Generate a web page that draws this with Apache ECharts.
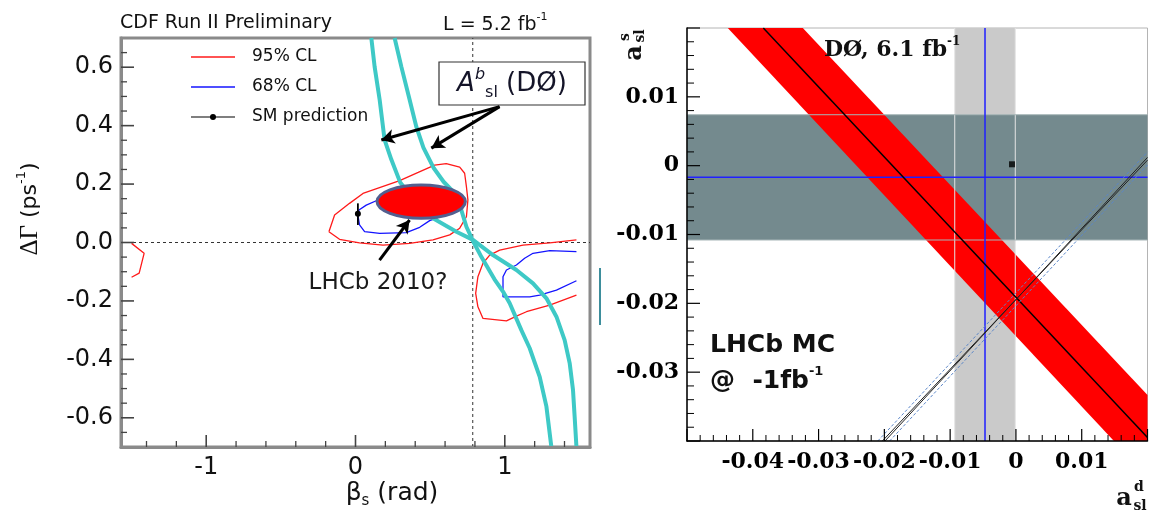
<!DOCTYPE html>
<html><head><meta charset="utf-8">
<script src="https://cdn.jsdelivr.net/npm/echarts@6/dist/echarts.min.js"></script>
<style>html,body{margin:0;padding:0;background:#fff}#c{width:1149px;height:511px}</style>
</head><body><div id="c"></div>
<script>
// ---------------- Left panel (CDF beta_s vs DeltaGamma) ----------------
const leftXRange = [-1.5708, 1.5708];
const leftYRange = [-0.7, 0.7];
const leftXMajor = [-1, 0, 1];
const leftXMinor = [-1.4,-1.2,-0.8,-0.6,-0.4,-0.2,0.2,0.4,0.6,0.8,1.2,1.4];
const leftYMajor = [-0.6,-0.4,-0.2,0,0.2,0.4,0.6];
const leftYMinor = [-0.65,-0.55,-0.5,-0.45,-0.35,-0.3,-0.25,-0.15,-0.1,-0.05,0.05,0.1,0.15,0.25,0.3,0.35,0.45,0.5,0.55,0.65];
const legendNames = ['95% CL', '68% CL', 'SM prediction'];

const red95Main = [[-0.178,0.037],[-0.140,0.094],[-0.040,0.134],[0.050,0.168],[0.296,0.212],[0.420,0.240],[0.530,0.265],[0.608,0.270],[0.698,0.258],[0.731,0.237],[0.743,0.191],[0.753,0.146],[0.743,0.088],[0.698,0.049],[0.631,0.026],[0.519,0.009],[0.363,-0.003],[0.184,-0.009],[0.027,-0.001],[-0.107,0.011],[-0.178,0.037]];
const red95Left = [[-1.500,-0.003],[-1.416,-0.037],[-1.449,-0.105],[-1.500,-0.119]];
const red95Right = [[1.480,0.009],[1.301,-0.001],[1.122,-0.009],[0.966,-0.026],[0.899,-0.043],[0.854,-0.071],[0.820,-0.117],[0.805,-0.174],[0.820,-0.220],[0.854,-0.260],[1.011,-0.268],[1.078,-0.252],[1.145,-0.237],[1.301,-0.214],[1.480,-0.180]];
const blue68Main = [[0.023,0.111],[0.072,0.128],[0.162,0.148],[0.296,0.168],[0.474,0.174],[0.608,0.157],[0.631,0.117],[0.564,0.088],[0.497,0.075],[0.430,0.052],[0.340,0.034],[0.162,0.031],[0.061,0.037],[0.027,0.060],[0.016,0.094],[0.023,0.111]];
const blue68Right = [[1.480,-0.031],[1.301,-0.028],[1.189,-0.037],[1.133,-0.054],[1.078,-0.077],[1.011,-0.094],[0.988,-0.117],[0.988,-0.186],[1.167,-0.186],[1.234,-0.180],[1.346,-0.163],[1.480,-0.131]];
const cyanA = [[0.106,0.700],[0.128,0.602],[0.162,0.488],[0.195,0.351],[0.240,0.284],[0.300,0.205],[0.400,0.140],[0.519,0.083],[0.676,0.037],[0.787,0.009],[0.921,-0.043],[1.078,-0.094],[1.189,-0.140],[1.279,-0.191],[1.346,-0.254],[1.401,-0.334],[1.435,-0.414],[1.457,-0.505],[1.468,-0.597],[1.480,-0.700]];
const cyanB = [[0.262,0.700],[0.307,0.602],[0.363,0.488],[0.407,0.397],[0.455,0.325],[0.525,0.254],[0.590,0.208],[0.653,0.175],[0.709,0.111],[0.743,0.054],[0.787,0.005],[0.843,-0.049],[0.930,-0.125],[0.988,-0.168],[1.033,-0.208],[1.111,-0.300],[1.167,-0.362],[1.234,-0.460],[1.279,-0.562],[1.312,-0.700]];
const smPoint = [[0.016,0.098]];
const smErr = [[0.016,0.060],[0.016,0.134]];
const lhcbEllipse = [[0.440,0.140,0.296,0.057]]; // centre x, centre y, half-width, half-height
const zeroLine = [[-1.5708,0],[1.5708,0]];
const quarterPiLine = [[0.7854,-0.7],[0.7854,0.7]];
const arrowAbsl1 = [[0.965,0.465],[0.173,0.351]];
const arrowAbsl2 = [[0.965,0.465],[0.508,0.323]];
const arrowLhcb = [[0.161,-0.060],[0.362,0.077]];

// ---------------- Right panel (a_sl^d vs a_sl^s) ----------------
const rightXRange = [-0.05, 0.02];
const rightYRange = [-0.04, 0.02];
const rightXMajor = [-0.05,-0.04,-0.03,-0.02,-0.01,0,0.01,0.02];
const rightXMinor = [-0.048,-0.046,-0.044,-0.042,-0.038,-0.036,-0.034,-0.032,-0.028,-0.026,-0.024,-0.022,-0.018,-0.016,-0.014,-0.012,-0.008,-0.006,-0.004,-0.002,0.002,0.004,0.006,0.008,0.012,0.014,0.016,0.018];
const rightYMajor = [-0.04,-0.03,-0.02,-0.01,0,0.01,0.02];
const rightYMinor = [-0.038,-0.036,-0.034,-0.032,-0.028,-0.026,-0.024,-0.022,-0.018,-0.016,-0.014,-0.012,-0.008,-0.006,-0.004,-0.002,0.002,0.004,0.006,0.008,0.012,0.014,0.016,0.018];
const d0AdBand = [[-0.0093,-0.04,-0.0001,0.02]];
const d0AsBand = [[-0.05,-0.0108,0.02,0.0074]];
const d0AdLine = [[-0.0047,-0.04],[-0.0047,0.02]];
const d0AsLine = [[-0.05,-0.0017],[0.02,-0.0017]];
const adBandEdge1 = [[-0.0093,-0.04],[-0.0093,0.02]];
const adBandEdge2 = [[-0.0001,-0.04],[-0.0001,0.02]];
const asBandEdge1 = [[-0.05,0.0074],[0.02,0.0074]];
const asBandEdge2 = [[-0.05,-0.0108],[0.02,-0.0108]];
const d0AbslBand = [[-0.0438,0.02],[-0.0324,0.02],[0.02,-0.0333],[0.02,-0.04],[0.0149,-0.04]];
const d0AbslLine = [[-0.0384,0.02],[0.02,-0.0395]];
const mcLineA = [[-0.0203,-0.04],[0.02,0.0008]];
const mcLineB = [[-0.0199,-0.04],[0.02,0.0012]];
const mcDashUp = [[-0.0210,-0.04],[0.02,0.0020]];
const mcDashDown = [[-0.0192,-0.04],[0.02,0.0001]];
const smSquare = [[-0.0006,0.0002]];

const SANS = 'DejaVu Sans';
const SERIF = 'DejaVu Serif';

function line(name, data, ax, color, width, extra) {
  return Object.assign({
    type: 'line', name, data, xAxisIndex: ax, yAxisIndex: ax,
    symbol: 'none', silent: true, animation: false, clip: true, z: 2,
    lineStyle: { color, width, type: 'solid' }, itemStyle: { color }
  }, extra || {});
}
function bandSeries(name, data, color) {
  return {
    type: 'custom', name, data, xAxisIndex: 1, yAxisIndex: 1, silent: true, clip: true, z: 1,
    encode: { x: [0, 2], y: [1, 3] },
    renderItem(params, api) {
      const p1 = api.coord([api.value(0), api.value(1)]);
      const p2 = api.coord([api.value(2), api.value(3)]);
      return { type: 'rect', shape: { x: Math.min(p1[0], p2[0]), y: Math.min(p1[1], p2[1]), width: Math.abs(p2[0] - p1[0]), height: Math.abs(p2[1] - p1[1]) }, style: { fill: color } };
    }
  };
}
function arrowSeries(name, pairs) {
  return {
    type: 'line', name, data: [], xAxisIndex: 0, yAxisIndex: 0, silent: true, z: 6,
    markLine: {
      silent: true, symbol: ['none', 'arrow'], symbolSize: [11, 13], animation: false,
      label: { show: false },
      lineStyle: { color: '#000', width: 3, type: 'solid' },
      data: pairs.map(p => [{ coord: p[0] }, { coord: p[1] }])
    }
  };
}
// axis ticks drawn through the axes' own scales (inward ticks)
function tickSeries(name, values, ax, dim, edge, len, color, width) {
  return {
    type: 'custom', name, data: values.map(v => [v]), xAxisIndex: ax, yAxisIndex: ax, silent: true, z: 20,
    renderItem(params, api) {
      const v = api.value(0);
      if (dim === 'y') {
        const p = api.coord([edge, v]);
        return { type: 'line', shape: { x1: p[0], y1: p[1], x2: p[0] + len, y2: p[1] }, style: { stroke: color, lineWidth: width } };
      }
      const p = api.coord([v, edge]);
      return { type: 'line', shape: { x1: p[0], y1: p[1], x2: p[0], y2: p[1] - len }, style: { stroke: color, lineWidth: width } };
    }
  };
}

const chart = echarts.init(document.getElementById('c'), null, { renderer: 'canvas' });
const option = {
  animation: false,
  backgroundColor: '#fff',
  grid: [
    { left: 121, top: 38, width: 469, height: 409, show: true, borderColor: '#8a8a8a', borderWidth: 3, outerBoundsMode: 'none' },
    { left: 687, top: 28, width: 460.5, height: 413, show: true, borderColor: '#b4b4b4', borderWidth: 1, outerBoundsMode: 'none' }
  ],
  xAxis: [
    { type: 'value', gridIndex: 0, min: leftXRange[0], max: leftXRange[1], z: 10,
      axisLine: { onZero: false, lineStyle: { color: '#8a8a8a', width: 3 } },
      axisTick: { show: false },
      axisLabel: { customValues: leftXMajor, margin: 9, fontFamily: SANS, fontSize: 24, color: '#111' },
      splitLine: { show: false } },
    { type: 'value', gridIndex: 1, min: rightXRange[0], max: rightXRange[1], interval: 0.01, z: 10,
      axisLine: { onZero: false, lineStyle: { color: '#000', width: 1.5 } },
      axisTick: { show: false }, minorTick: { show: false },
      axisLabel: { showMinLabel: false, showMaxLabel: false, margin: 10, fontFamily: SERIF, fontWeight: 'bold', fontSize: 22, color: '#000' },
      splitLine: { show: false } }
  ],
  yAxis: [
    { type: 'value', gridIndex: 0, min: leftYRange[0], max: leftYRange[1], z: 10,
      axisLine: { show: true, onZero: false, lineStyle: { color: '#8a8a8a', width: 3 } },
      axisTick: { show: false },
      axisLabel: { customValues: leftYMajor, margin: 8, fontFamily: SANS, fontSize: 24, color: '#111', formatter: v => v.toFixed(1) },
      splitLine: { show: false } },
    { type: 'value', gridIndex: 1, min: rightYRange[0], max: rightYRange[1], interval: 0.01, z: 10,
      axisLine: { show: true, onZero: false, lineStyle: { color: '#000', width: 1.5 } },
      axisTick: { show: false }, minorTick: { show: false },
      axisLabel: { showMinLabel: false, showMaxLabel: false, margin: 8, fontFamily: SERIF, fontWeight: 'bold', fontSize: 22, color: '#000' },
      splitLine: { show: false } }
  ],
  series: [
    // left panel
    line('zero', zeroLine, 0, '#333', 1, { lineStyle: { color: '#333', width: 1, type: [3, 3] } }),
    line('quarterPi', quarterPiLine, 0, '#333', 1, { lineStyle: { color: '#333', width: 1, type: [3, 3] } }),
    line(legendNames[0], red95Main, 0, '#ff1a1a', 1.3),
    line(legendNames[0], red95Left, 0, '#ff1a1a', 1.3),
    line(legendNames[0], red95Right, 0, '#ff1a1a', 1.3),
    line(legendNames[1], blue68Main, 0, '#1414ff', 1.3),
    line(legendNames[1], blue68Right, 0, '#1414ff', 1.3),
    line('smErr', smErr, 0, '#000', 1.8),
    line(legendNames[2], smPoint, 0, '#000', 1.2, { symbol: 'circle', symbolSize: 6, showSymbol: true }),
    line('cyanA', cyanA, 0, '#3ec9c6', 4, { z: 3 }),
    line('cyanB', cyanB, 0, '#3ec9c6', 4, { z: 3 }),
    { type: 'custom', name: 'LHCb 2010', data: lhcbEllipse, xAxisIndex: 0, yAxisIndex: 0, silent: true, z: 5,
      encode: { x: 0, y: 1 },
      renderItem(params, api) {
        const c = api.coord([api.value(0), api.value(1)]);
        const s = api.size([api.value(2), api.value(3)]);
        const rx = s[0], ry = s[1];
        const d = 'M ' + (c[0] - rx) + ' ' + c[1] + ' A ' + rx + ' ' + ry + ' 0 1 0 ' + (c[0] + rx) + ' ' + c[1] +
                  ' A ' + rx + ' ' + ry + ' 0 1 0 ' + (c[0] - rx) + ' ' + c[1] + ' Z';
        return { type: 'path', shape: { pathData: d }, style: { fill: '#ff0000', stroke: '#535f8f', lineWidth: 3 } };
      } },
    arrowSeries('arrows', [arrowAbsl1, arrowAbsl2, arrowLhcb]),
    tickSeries('lxMaj', leftXMajor, 0, 'x', leftYRange[0], 12, '#444', 1.6),
    tickSeries('lxMin', leftXMinor, 0, 'x', leftYRange[0], 6, '#444', 1.3),
    tickSeries('lyMaj', leftYMajor, 0, 'y', leftXRange[0], 13, '#444', 1.6),
    tickSeries('lyMin', leftYMinor, 0, 'y', leftXRange[0], 6, '#444', 1.3),
    // right panel
    bandSeries('adBand', d0AdBand, '#cacaca'),
    bandSeries('asBand', d0AsBand, '#748a8e'),
    { type: 'custom', name: 'abslBand', data: [0], xAxisIndex: 1, yAxisIndex: 1, silent: true, clip: true, z: 1,
      renderItem(params, api) {
        return { type: 'polygon', shape: { points: d0AbslBand.map(p => api.coord(p)) }, style: { fill: '#ff0000' } };
      } },
    line('adEdge1', adBandEdge1, 1, '#e4e4e4', 1),
    line('adEdge2', adBandEdge2, 1, '#e4e4e4', 1),
    line('asEdge1', asBandEdge1, 1, '#a7b6b8', 1),
    line('asEdge2', asBandEdge2, 1, '#a7b6b8', 1),
    line('adLine', d0AdLine, 1, '#2020ff', 1.5),
    line('asLine', d0AsLine, 1, '#2020ff', 1.5),
    line('abslLine', d0AbslLine, 1, '#000', 1.5),
    line('mcDashUp', mcDashUp, 1, '#5b86c8', 1, { lineStyle: { color: '#5b86c8', width: 1, type: [3, 2] } }),
    line('mcDashDown', mcDashDown, 1, '#5b86c8', 1, { lineStyle: { color: '#5b86c8', width: 1, type: [3, 2] } }),
    line('mcLineA', mcLineA, 1, '#222', 1),
    line('mcLineB', mcLineB, 1, '#222', 1),
    { type: 'scatter', name: 'smSquare', data: smSquare, xAxisIndex: 1, yAxisIndex: 1, silent: true, z: 4,
      symbol: 'rect', symbolSize: 6, itemStyle: { color: '#000' } },
    tickSeries('rxMaj', rightXMajor, 1, 'x', rightYRange[0], 12, '#000', 1.2),
    tickSeries('rxMin', rightXMinor, 1, 'x', rightYRange[0], 6, '#000', 1),
    tickSeries('ryMaj', rightYMajor, 1, 'y', rightXRange[0], 13, '#000', 1.2),
    tickSeries('ryMin', rightYMinor, 1, 'y', rightXRange[0], 7, '#000', 1)
  ],
  graphic: [
    // legend of left panel
    { type: 'line', z: 100, silent: true, shape: { x1: 191, y1: 57, x2: 235, y2: 57 }, style: { stroke: '#ff1a1a', lineWidth: 1.4 } },
    { type: 'line', z: 100, silent: true, shape: { x1: 191, y1: 87, x2: 235, y2: 87 }, style: { stroke: '#1414ff', lineWidth: 1.4 } },
    { type: 'line', z: 100, silent: true, shape: { x1: 191, y1: 117, x2: 235, y2: 117 }, style: { stroke: '#000', lineWidth: 1.2 } },
    { type: 'circle', z: 100, silent: true, shape: { cx: 213, cy: 117, r: 3 }, style: { fill: '#000' } },
    { type: 'text', z: 100, x: 252, y: 57, silent: true, style: { text: legendNames[0], font: '17px "DejaVu Sans"', fill: '#111', textVerticalAlign: 'middle' } },
    { type: 'text', z: 100, x: 252, y: 87, silent: true, style: { text: legendNames[1], font: '17px "DejaVu Sans"', fill: '#111', textVerticalAlign: 'middle' } },
    { type: 'text', z: 100, x: 252, y: 117, silent: true, style: { text: legendNames[2], font: '17px "DejaVu Sans"', fill: '#111', textVerticalAlign: 'middle' } },
    // left panel texts
    { type: 'text', z: 100, x: 120, y: 23, silent: true, style: { text: 'CDF Run II Preliminary', font: '19px "DejaVu Sans"', fill: '#111', textVerticalAlign: 'middle' } },
    { type: 'text', z: 100, x: 443, y: 25, silent: true, style: { text: '{n|L = 5.2 fb}{sup|-1}', textVerticalAlign: 'middle', fill: '#111',
      rich: { n: { fontFamily: SANS, fontSize: 19, lineHeight: 26 }, sup: { fontFamily: SANS, fontSize: 11, lineHeight: 12, verticalAlign: 'top' } } } },
    { type: 'group', z: 100, x: 439, y: 62, silent: true, children: [
      { type: 'rect', z: 100, shape: { x: 0, y: 0, width: 146, height: 43 }, style: { fill: '#fff', stroke: '#333', lineWidth: 1.2 } },
      { type: 'text', z: 101, x: 73, y: 22, style: { text: '{i|A}{sup|b}{sub|sl}{n| (DØ)}', textAlign: 'center', textVerticalAlign: 'middle', fill: '#141428',
        rich: { i: { fontFamily: SANS, fontStyle: 'italic', fontSize: 26, lineHeight: 34 }, n: { fontFamily: SANS, fontSize: 26, lineHeight: 34 },
                sup: { fontFamily: SANS, fontStyle: 'italic', fontSize: 16, lineHeight: 16, verticalAlign: 'top' },
                sub: { fontFamily: SANS, fontSize: 16, lineHeight: 16, verticalAlign: 'bottom', color: '#2a3f7a' } } } }
    ] },
    { type: 'text', z: 100, x: 378, y: 283, silent: true, style: { text: 'LHCb 2010?', font: '23px "DejaVu Sans"', fill: '#1a1a1a', textAlign: 'center', textVerticalAlign: 'middle' } },
    { type: 'text', z: 100, x: 30, y: 209, rotation: Math.PI / 2, silent: true, style: { text: '{g|ΔΓ}{n| (ps}{sup|-1}{n|)}', textAlign: 'center', textVerticalAlign: 'middle', fill: '#111',
      rich: { g: { fontFamily: 'Liberation Serif', fontSize: 25, lineHeight: 30 }, n: { fontFamily: SANS, fontSize: 22, lineHeight: 30 }, sup: { fontFamily: SANS, fontSize: 13, lineHeight: 13, verticalAlign: 'top' } } } },
    { type: 'text', z: 100, x: 392, y: 493, silent: true, style: { text: '{n|β}{sub|s}{n| (rad)}', textAlign: 'center', textVerticalAlign: 'middle', fill: '#111',
      rich: { n: { fontFamily: SANS, fontSize: 25, lineHeight: 32 }, sub: { fontFamily: SANS, fontSize: 15, lineHeight: 15, verticalAlign: 'bottom' } } } },
    { type: 'line', z: 100, silent: true, shape: { x1: 600, y1: 268, x2: 600, y2: 325 }, style: { stroke: '#3d8e9c', lineWidth: 2 } },
    // right panel texts
    { type: 'text', z: 100, x: 824, y: 50, silent: true, style: { text: '{b|DØ, 6.1 fb}{sup|-1}', textVerticalAlign: 'middle', fill: '#111',
      rich: { b: { fontFamily: SERIF, fontWeight: 'bold', fontSize: 22, lineHeight: 28 }, sup: { fontFamily: SERIF, fontWeight: 'bold', fontSize: 12, lineHeight: 12, verticalAlign: 'top' } } } },
    { type: 'text', z: 100, x: 710, y: 345, silent: true, style: { text: 'LHCb MC', font: 'bold 25px "DejaVu Sans"', fill: '#111', textVerticalAlign: 'middle' } },
    { type: 'text', z: 100, x: 710, y: 381, silent: true, style: { text: '{b|@  -1fb}{sup|-1}', textVerticalAlign: 'middle', fill: '#111',
      rich: { b: { fontFamily: SANS, fontWeight: 'bold', fontSize: 25, lineHeight: 32 }, sup: { fontFamily: SANS, fontWeight: 'bold', fontSize: 13, lineHeight: 13, verticalAlign: 'top' } } } },
    // y-axis name a_sl^s (rotated)
    { type: 'text', z: 100, x: 635, y: 53, rotation: Math.PI / 2, silent: true, style: { text: 'a', font: 'bold 24px "DejaVu Serif"', fill: '#111', textAlign: 'center', textVerticalAlign: 'middle' } },
    { type: 'text', z: 100, x: 625, y: 37, rotation: Math.PI / 2, silent: true, style: { text: 's', font: 'bold 14px "DejaVu Serif"', fill: '#111', textAlign: 'center', textVerticalAlign: 'middle' } },
    { type: 'text', z: 100, x: 640, y: 36, rotation: Math.PI / 2, silent: true, style: { text: 'sl', font: 'bold 14px "DejaVu Serif"', fill: '#111', textAlign: 'center', textVerticalAlign: 'middle' } },
    // x-axis name a_sl^d
    { type: 'text', z: 100, x: 1124, y: 499, silent: true, style: { text: 'a', font: 'bold 24px "DejaVu Serif"', fill: '#111', textAlign: 'center', textVerticalAlign: 'middle' } },
    { type: 'text', z: 100, x: 1139, y: 487, silent: true, style: { text: 'd', font: 'bold 14px "DejaVu Serif"', fill: '#111', textAlign: 'center', textVerticalAlign: 'middle' } },
    { type: 'text', z: 100, x: 1140, y: 506, silent: true, style: { text: 'sl', font: 'bold 14px "DejaVu Serif"', fill: '#111', textAlign: 'center', textVerticalAlign: 'middle' } }
  ]
};
chart.setOption(option);
</script>
</body></html>
